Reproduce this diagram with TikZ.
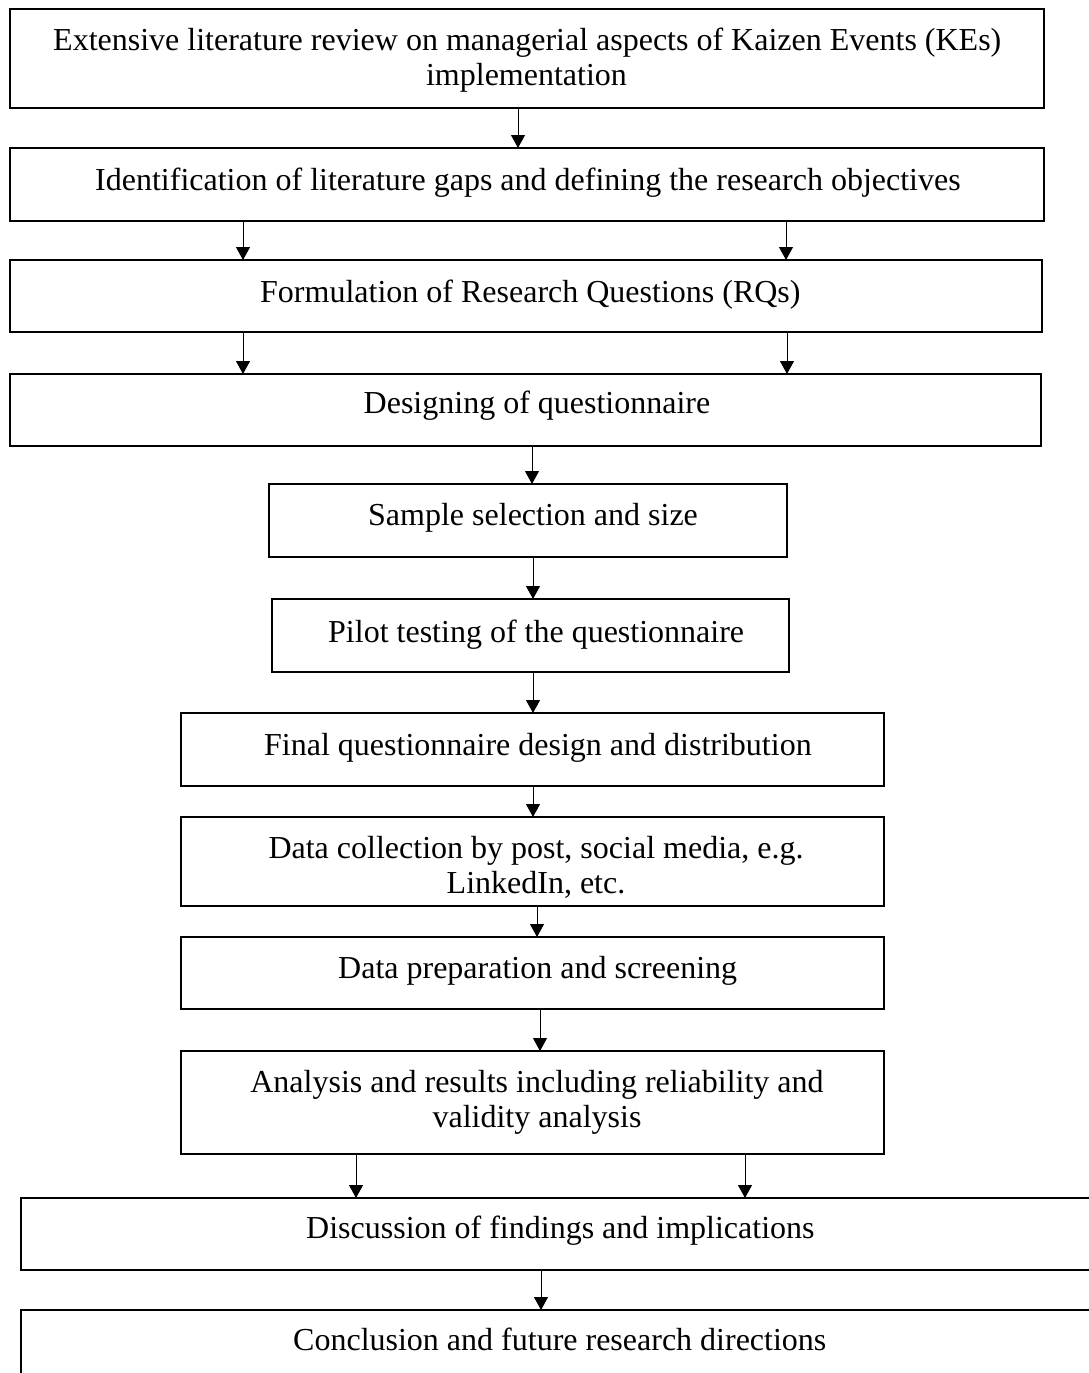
\documentclass[tikz,border=0pt]{standalone}
\usepackage{fontspec}
\setmainfont{Liberation Serif}
\usetikzlibrary{arrows.meta}
\newcommand{\mkbox}[5]{\node[boxst, minimum width={(#4-#2)*1pt}, minimum height={(#5-#3)*1pt}] (#1) at ({(#2+#4)/2},{(#3+#5)/2}) {};}
\begin{document}
\begin{tikzpicture}[x=1pt,y=-1pt,
  boxst/.style={draw=black, line width=1.5pt, rectangle, inner sep=0pt, outer sep=0pt},
  txt/.style={inner sep=0pt, font=\fontsize{32}{35}\selectfont},
  arr/.style={-{Triangle[width=14pt,length=13pt]}, line width=1pt}]
\useasboundingbox (0,0) rectangle (1089,1373);
\clip (0,0) rectangle (1089,1373);
\fill[white] (0,0) rectangle (1089,1373);
% boxes
\mkbox{b1}{10}{9}{1044}{108}
\mkbox{b2}{10}{148}{1044}{221}
\mkbox{b3}{10}{260}{1042}{332}
\mkbox{b4}{10}{374}{1041}{446}
\mkbox{b5}{269}{484}{787}{557}
\mkbox{b6}{272}{599}{789}{672}
\mkbox{b7}{181}{713}{884}{786}
\mkbox{b8}{181}{817}{884}{906}
\mkbox{b9}{181}{937}{884}{1009}
\mkbox{b10}{181}{1051}{884}{1154}
\mkbox{b11}{21}{1198}{1110}{1270}
\mkbox{b12}{21}{1310}{1110}{1420}
% texts
\node[txt, anchor=base west] (t1a) at (53,50) {Extensive literature review on managerial aspects of Kaizen Events (KEs)};
\node[txt, anchor=base] (t1b) at (526.5,85) {implementation};
\node[txt, anchor=base west] (t2) at (95,190) {Identification of literature gaps and defining the research objectives};
\node[txt, anchor=base west] (t3) at (260,302) {Formulation of Research Questions (RQs)};
\node[txt, anchor=base] (t4) at (537,413) {Designing of questionnaire};
\node[txt, anchor=base west] (t5) at (368,525) {Sample selection and size};
\node[txt, anchor=base west] (t6) at (328,642) {Pilot testing of the questionnaire};
\node[txt, anchor=base west] (t7) at (264,755) {Final questionnaire design and distribution};
\node[txt, anchor=base] (t8a) at (536,858) {Data collection by post, social media, e.g.};
\node[txt, anchor=base] (t8b) at (536,893) {LinkedIn, etc.};
\node[txt, anchor=base west] (t9) at (338,978) {Data preparation and screening};
\node[txt, anchor=base] (t10a) at (537,1092) {Analysis and results including reliability and};
\node[txt, anchor=base] (t10b) at (537,1127) {validity analysis};
\node[txt, anchor=base west] (t11) at (306,1238) {Discussion of findings and implications};
\node[txt, anchor=base west] (t12) at (293,1350) {Conclusion and future research directions};
% arrows
\draw[arr] (518,0 |- b1.south) -- (518,0 |- b2.north);
\draw[arr] (243,0 |- b2.south) -- (243,0 |- b3.north);
\draw[arr] (786,0 |- b2.south) -- (786,0 |- b3.north);
\draw[arr] (243,0 |- b3.south) -- (243,0 |- b4.north);
\draw[arr] (787,0 |- b3.south) -- (787,0 |- b4.north);
\draw[arr] (532,0 |- b4.south) -- (532,0 |- b5.north);
\draw[arr] (533,0 |- b5.south) -- (533,0 |- b6.north);
\draw[arr] (533,0 |- b6.south) -- (533,0 |- b7.north);
\draw[arr] (533,0 |- b7.south) -- (533,0 |- b8.north);
\draw[arr] (537,0 |- b8.south) -- (537,0 |- b9.north);
\draw[arr] (540,0 |- b9.south) -- (540,0 |- b10.north);
\draw[arr] (356,0 |- b10.south) -- (356,0 |- b11.north);
\draw[arr] (745,0 |- b10.south) -- (745,0 |- b11.north);
\draw[arr] (541,0 |- b11.south) -- (541,0 |- b12.north);
\end{tikzpicture}
\end{document}
